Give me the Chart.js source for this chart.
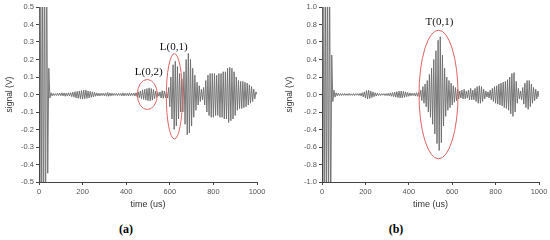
<!DOCTYPE html>
<html>
<head>
<meta charset="utf-8">
<script src="https://cdn.jsdelivr.net/npm/chart.js@4"></script>
<style>
  body { margin: 0; background: #fff; width: 550px; height: 240px; position: relative; overflow: hidden; }
  canvas { position: absolute; top: 0; }
  #chartA { left: 0; }
  #chartB { left: 280px; }
  .cap { position: absolute; top: 222px; font: bold 12px "Liberation Serif", serif; color: #000; transform: translateX(-50%); }
</style>
</head>
<body>
<canvas id="chartA" width="280" height="215"></canvas>
<canvas id="chartB" width="270" height="215"></canvas>
<div class="cap" style="left:126px">(a)</div>
<div class="cap" style="left:396px">(b)</div>
<script>
// sampling step of the read-off waveform (us)
const STEP = 5;

// (a) signal, one value every 5 us from 0 to 1000 us (peaks)
const signalA = [
  0, 0.9, -0.9, 0.9, -0.9, 0.9, -0.9, 0.9, -0.45, 0.15, -0.02, 0.01, -0.008, 0.006, -0.006, 0.005, -0.006, 0.007, -0.006, 0.008,
  -0.007, 0.01, -0.008, 0.009, -0.01, 0.008, -0.009, 0.01, -0.008, 0.01, -0.012, 0.014, -0.015, 0.016, -0.02, 0.018, -0.022, 0.02, -0.024, 0.022,
  -0.026, 0.025, -0.024, 0.026, -0.022, 0.02, -0.02, 0.018, -0.016, 0.015, -0.014, 0.012, -0.01, 0.009, -0.008, 0.007, -0.008, 0.007, -0.006, 0.007,
  -0.008, 0.009, -0.01, 0.012, -0.01, 0.009, -0.008, 0.007, -0.006, 0.006, -0.005, 0.006, -0.007, 0.006, -0.005, 0.006, -0.008, 0.009, -0.008, 0.007,
  -0.006, 0.007, -0.008, 0.009, -0.008, 0.007, -0.006, 0.008, -0.009, 0.01, -0.012, 0.015, -0.018, 0.02, -0.024, 0.026, -0.028, 0.03, -0.032, 0.034,
  -0.036, 0.038, -0.036, 0.034, -0.032, 0.028, -0.024, 0.02, -0.016, 0.012, -0.01, 0.015, -0.02, 0.022, -0.022, 0.02, -0.018, 0.015, -0.02, 0.04,
  -0.07, 0.1, -0.14, 0.17, -0.2, 0.19, -0.18, 0.16, -0.14, 0.12, -0.1, 0.09, -0.1, 0.13, -0.17, 0.2, -0.23, 0.235, -0.22, 0.2,
  -0.18, 0.15, -0.13, 0.11, -0.09, 0.07, -0.06, 0.05, -0.04, 0.03, -0.03, 0.04, -0.06, 0.08, -0.1, 0.11, -0.12, 0.12, -0.13, 0.12,
  -0.13, 0.12, -0.12, 0.11, -0.12, 0.12, -0.13, 0.12, -0.13, 0.13, -0.14, 0.13, -0.14, 0.15, -0.16, 0.155, -0.15, 0.15, -0.14, 0.13,
  -0.12, 0.1, -0.09, 0.08, -0.08, 0.075, -0.08, 0.075, -0.075, 0.07, -0.07, 0.065, -0.06, 0.055, -0.05, 0.045, -0.04, 0.03, -0.025, 0.015,
  0
];

// (b) signal, same sampling
const signalB = [
  0, 1.5, -1.5, 1.5, -1.5, 1.5, -1.5, 1.5, -1.5, 0.45, -0.08, 0.05, -0.03, 0.02, -0.015, 0.015, -0.012, 0.01, -0.012, 0.01,
  -0.01, 0.012, -0.01, 0.008, -0.01, 0.012, -0.01, 0.008, -0.01, 0.01, -0.012, 0.01, -0.008, 0.01, -0.012, 0.014, -0.016, 0.02, -0.025, 0.03,
  -0.04, 0.045, -0.05, 0.05, -0.045, 0.04, -0.035, 0.03, -0.025, 0.02, -0.018, 0.015, -0.012, 0.01, -0.012, 0.01, -0.008, 0.01, -0.012, 0.01,
  -0.012, 0.014, -0.016, 0.018, -0.02, 0.022, -0.025, 0.028, -0.03, 0.032, -0.035, 0.038, -0.04, 0.04, -0.038, 0.036, -0.032, 0.03, -0.025, 0.022,
  -0.02, 0.018, -0.015, 0.014, -0.012, 0.015, -0.018, 0.02, -0.02, 0.022, -0.03, 0.05, -0.07, 0.09, -0.1, 0.12, -0.14, 0.16, -0.2, 0.23,
  -0.26, 0.3, -0.34, 0.4, -0.45, 0.5, -0.56, 0.62, -0.64, 0.66, -0.55, 0.45, -0.36, 0.3, -0.25, 0.2, -0.18, 0.16, -0.15, 0.13,
  -0.12, 0.1, -0.09, 0.08, -0.07, 0.06, -0.05, 0.04, -0.04, 0.05, -0.05, 0.06, -0.05, 0.04, -0.04, 0.05, -0.06, 0.07, -0.06, 0.05,
  -0.06, 0.07, -0.08, 0.09, -0.1, 0.1, -0.1, 0.09, -0.08, 0.06, -0.05, 0.04, -0.03, 0.03, -0.04, 0.05, -0.06, 0.07, -0.08, 0.09,
  -0.1, 0.1, -0.11, 0.12, -0.12, 0.13, -0.13, 0.14, -0.15, 0.15, -0.16, 0.17, -0.18, 0.2, -0.22, 0.24, -0.25, 0.25, -0.2, 0.15,
  -0.1, 0.07, -0.05, 0.04, -0.06, 0.08, -0.11, 0.13, -0.15, 0.16, -0.17, 0.16, -0.14, 0.12, -0.1, 0.08, -0.07, 0.06, -0.05, 0.04,
  -0.03
];

const timeTicks = [0, 200, 400, 600, 800, 1000];
const ticksA = [-0.5, -0.4, -0.3, -0.2, -0.1, 0, 0.1, 0.2, 0.3, 0.4, 0.5];
const ticksB = [-1.0, -0.8, -0.6, -0.4, -0.2, 0, 0.2, 0.4, 0.6, 0.8, 1.0];

// red ovals + their labels, in data units
const notesA = {
  ovals: [ { t: 497, dt: 46, v: 0, dv: 0.086 }, { t: 621, dt: 37, v: -0.01, dv: 0.244 } ],
  labels: [ { text: 'L(0,2)', t: 503, v: 0.126 }, { text: 'L(0,1)', t: 618, v: 0.271 } ]
};
const notesB = {
  ovals: [ { t: 537, dt: 90, v: 0, dv: 0.735 } ],
  labels: [ { text: 'T(0,1)', t: 541, v: 0.827 } ]
};

const ovalPlugin = {
  id: 'ovals',
  afterDatasetsDraw(chart, args, opts) {
    const ctx = chart.ctx, x = chart.scales.x, y = chart.scales.y;
    ctx.save();
    ctx.strokeStyle = '#e06464';
    ctx.lineWidth = 1;
    opts.ovals.forEach(o => {
      const cx = x.getPixelForValue(o.t), cy = y.getPixelForValue(o.v);
      const rx = Math.abs(x.getPixelForValue(o.t + o.dt) - cx);
      const ry = Math.abs(y.getPixelForValue(o.v + o.dv) - cy);
      ctx.beginPath();
      ctx.ellipse(cx, cy, rx, ry, 0, 0, Math.PI * 2);
      ctx.stroke();
    });
    ctx.fillStyle = '#111';
    ctx.font = '11px "Liberation Serif", serif';
    ctx.textAlign = 'center';
    ctx.textBaseline = 'middle';
    opts.labels.forEach(l => ctx.fillText(l.text, x.getPixelForValue(l.t), y.getPixelForValue(l.v)));
    ctx.restore();
  }
};

function makeChart(id, values, yTicks, yWidth, padRight, notes) {
  const pts = values.map((v, i) => ({ x: i * STEP, y: v }));
  const tickFont = { family: '"Liberation Sans", Arial, sans-serif', size: 7.5 };
  return new Chart(document.getElementById(id), {
    type: 'line',
    data: {
      datasets: [{
        data: pts,
        borderColor: '#6a6a6a',
        borderWidth: 0.9,
        pointRadius: 0,
        tension: 0
      }]
    },
    options: {
      responsive: false,
      animation: false,
      layout: { padding: { left: 0, right: padRight, top: 7, bottom: 0 } },
      plugins: { legend: { display: false }, tooltip: { enabled: false }, ovals: notes },
      scales: {
        x: {
          type: 'linear',
          min: 0, max: 1000,
          afterBuildTicks: axis => { axis.ticks = timeTicks.map(v => ({ value: v })); },
          afterFit: axis => { axis.height = 33; },
          grid: { drawOnChartArea: false, drawTicks: true, tickLength: 3, color: '#444' },
          border: { color: '#444', width: 1 },
          ticks: { color: '#555', font: tickFont, padding: 2, maxRotation: 0, callback: v => String(v) },
          title: { display: true, text: 'time (us)', color: '#333', font: { family: '"Liberation Sans", Arial, sans-serif', size: 9 }, padding: { top: 0, bottom: 5 } }
        },
        y: {
          min: yTicks[0], max: yTicks[yTicks.length - 1],
          afterBuildTicks: axis => { axis.ticks = yTicks.map(v => ({ value: v })); },
          afterFit: axis => { axis.width = yWidth; },
          grid: { drawOnChartArea: false, drawTicks: true, tickLength: 3, color: '#444' },
          border: { color: '#444', width: 1 },
          ticks: { color: '#555', font: tickFont, padding: 2, callback: v => Number(v).toFixed(1) },
          title: { display: true, text: 'signal (V)', color: '#333', font: { family: '"Liberation Sans", Arial, sans-serif', size: 8.5 }, padding: { top: 5, bottom: 0 } }
        }
      }
    },
    plugins: [ovalPlugin]
  });
}

makeChart('chartA', signalA, ticksA, 39, 23, notesA);
makeChart('chartB', signalB, ticksB, 42, 11, notesB);
</script>
</body>
</html>
